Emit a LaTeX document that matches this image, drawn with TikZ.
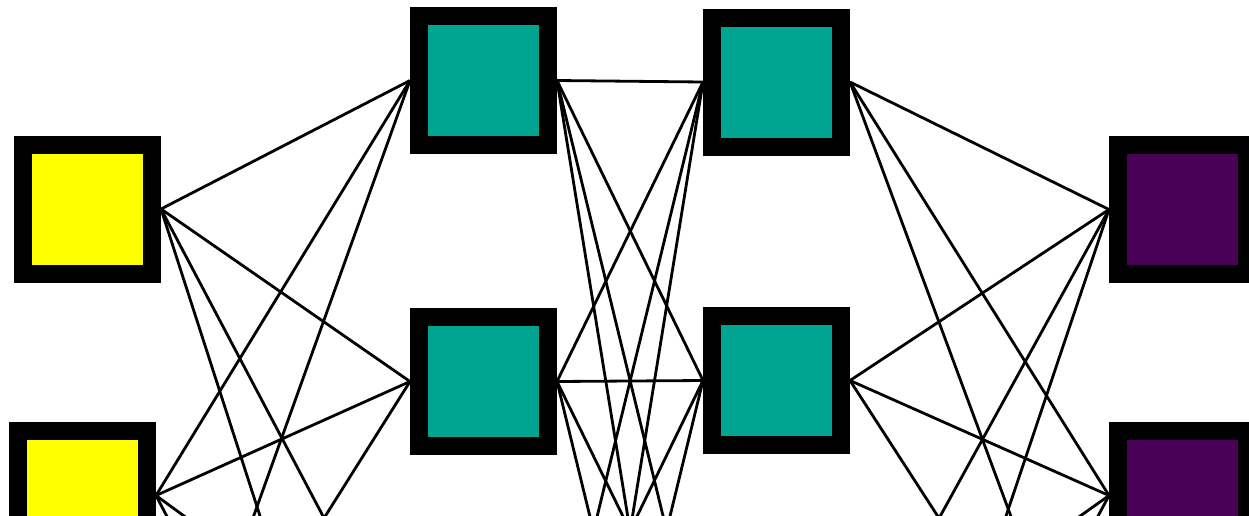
\documentclass[tikz,border=0pt]{standalone}
\definecolor{nyellow}{RGB}{255,255,0}
\definecolor{nteal}{RGB}{0,165,146}
\definecolor{npurple}{RGB}{72,1,86}
\tikzset{
  unit/.style={draw=black, line width=18pt, minimum size=129pt, inner sep=0pt, shape=rectangle},
  inunit/.style={unit, fill=nyellow},
  hidunit/.style={unit, fill=nteal},
  outunit/.style={unit, fill=npurple},
  conn/.style={draw=black, line width=2.8pt}
}
\begin{document}
\begin{tikzpicture}[x=1pt,y=-1pt]
\useasboundingbox (0,0) rectangle (1249,515);
\fill[white] (0,0) rectangle (1249,515);
\begin{scope}
\clip (0,0) rectangle (1249,515);
% layer 1
\node[inunit] (a1) at (87.5,209) {};
\node[inunit] (a2) at (82.5,495.5) {};
\node[inunit] (a3) at (85,781) {};
% layer 2
\node[hidunit] (b1) at (483.5,80.5) {};
\node[hidunit] (b2) at (483.5,381.5) {};
\node[hidunit] (b3) at (483.5,681) {};
\node[hidunit] (b4) at (483.5,981) {};
% layer 3
\node[hidunit] (c1) at (776.5,82) {};
\node[hidunit] (c2) at (776.5,380.5) {};
\node[hidunit] (c3) at (776.5,680) {};
\node[hidunit] (c4) at (776.5,980) {};
% layer 4
\node[outunit] (d1) at (1182.5,209.5) {};
\node[outunit] (d2) at (1182.5,495.5) {};
\node[outunit] (d3) at (1182.5,781) {};
% connectors
\foreach \i in {1,2,3}{
  \foreach \j in {1,2,3,4}{
    \draw[conn] (a\i.east) -- (b\j.west);
  }
}
\foreach \i in {1,2,3,4}{
  \foreach \j in {1,2,3,4}{
    \draw[conn] (b\i.east) -- (c\j.west);
  }
}
\foreach \i in {1,2,3,4}{
  \foreach \j in {1,2,3}{
    \draw[conn] (c\i.east) -- (d\j.west);
  }
}
\end{scope}
\end{tikzpicture}
\end{document}
